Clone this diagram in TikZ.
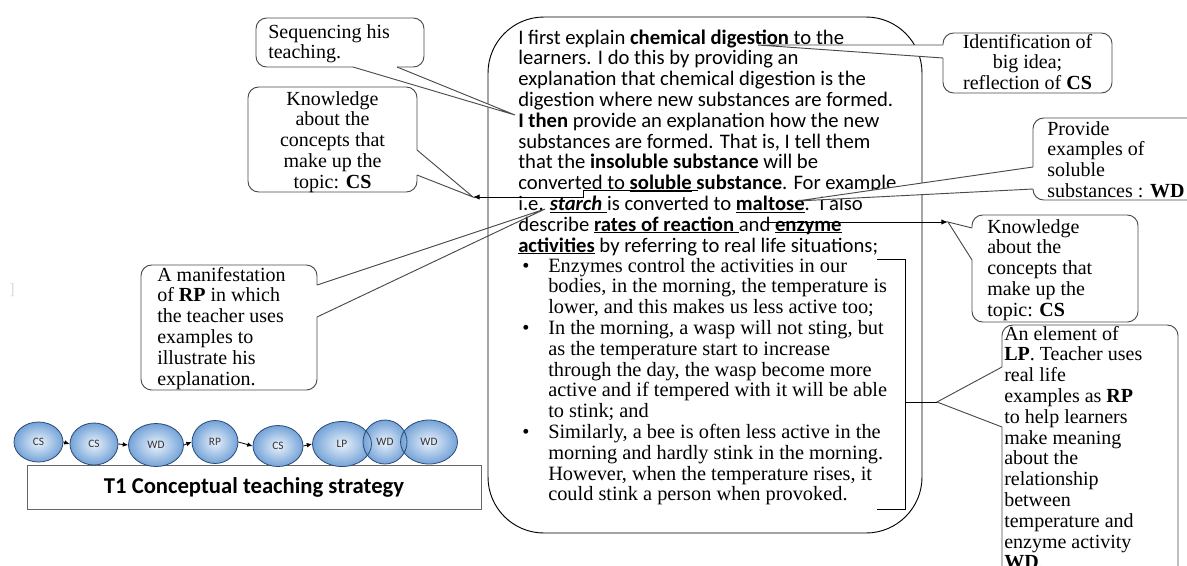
\documentclass[tikz,border=0pt]{standalone}
\usepackage{fontspec}
\setmainfont{Liberation Serif}
\newfontfamily\calib{Carlito}
\usetikzlibrary{shapes.geometric,arrows.meta,calc}

\definecolor{edgegray}{HTML}{4A4A4A}
\definecolor{beadin}{HTML}{EAF2FB}
\definecolor{beadout}{HTML}{74A3D8}
\definecolor{beadrim}{HTML}{2C4A74}

% underline just below the baseline, same depth for every word
\newcommand\undl[1]{\setbox0\hbox{#1}\rlap{\rule[-1.6pt]{\wd0}{0.75pt}}\box0\relax}

% lines of text stacked at a fixed pitch: #1 name prefix, #2 options, #3 x, #4 first baseline, #5 lines
\newcommand\textlines[5]{%
  \foreach \txt [count=\k from 0] in {#5}{%
    \node[inner sep=0pt,#2] (#1\k) at (#3,{#4+20.8*\k}) {\txt};}}

% mouth of a callout: clears the box edge between the base points, fills the wedge, draws its sides
% #1 wedge fill options, #2 base A, #3 tip, #4 base B, #5/#6 step across the edge
\newcommand\calloutmouth[6]{%
  \fill[white] ($(#2)+(#5,#6)$) -- ($(#2)-(#5,#6)$) -- ($(#4)-(#5,#6)$) -- ($(#4)+(#5,#6)$) -- cycle;
  \fill[#1] (#2) -- (#3) -- (#4) -- cycle;
  \draw[pointer] (#2) -- (#3) -- (#4);}

\begin{document}
\begin{tikzpicture}[x=0.75pt,y=-0.75pt,
  box/.style={draw=edgegray,line width=0.7pt,fill=white,rounded corners=8pt},
  pointer/.style={draw=edgegray,line width=0.7pt,line join=miter},
  link/.style={draw=black,line width=0.7pt,-{Latex[length=5pt,width=4pt]}},
  bodyfont/.style={font=\calib\fontsize{15.5}{18}\selectfont},
  notefont/.style={font=\fontsize{15}{18}\selectfont},
  listfont/.style={font=\fontsize{15.25}{18}\selectfont},
  bead/.style={ellipse,draw=beadrim,line width=0.6pt,inner sep=0pt,
    font=\calib\fontsize{8.5}{10}\selectfont,text=black!80},
  beadlink/.style={-{Latex[length=4pt,width=3.5pt]},line width=0.6pt}]

\path[use as bounding box] (0,0) rectangle (1187,565);
\fill[white] (0,0) rectangle (1187,565);
\node[text=black!15,font=\fontsize{12}{14}\selectfont,inner sep=0pt] (edgemark) at (12,290) {]};

% the interview extract
\node[draw,line width=0.7pt,rounded corners=42pt,minimum width=325.5pt,minimum height=387pt,inner sep=0pt] (story) at (705,275) {};

\textlines{para}{anchor=base west,bodyfont}{518}{44}{%
  {I first explain \textbf{chemical digestion} to the},
  {learners. I do this by providing an},
  {explanation that chemical digestion is the},
  {digestion where new substances are formed.},
  {\textbf{I then} provide an explanation how the new},
  {substances are formed. That is, I tell them},
  {that the \textbf{insoluble substance} will be},
  {converted to \textbf{\undl{soluble} substance}. For example},
  {i.e. \undl{\textbf{\textit{starch}}\ }is converted to \undl{\textbf{maltose}}.\ \ I also},
  {describe \undl{\textbf{rates of reaction}\ }and \undl{\textbf{enzyme}}},
  {\undl{\textbf{activities}} by referring to real life situations;}}

\textlines{item}{anchor=base west,listfont}{548}{272}{%
  {Enzymes control the activities in our},
  {bodies, in the morning, the temperature is},
  {lower, and this makes us less active too;},
  {In the morning, a wasp will not sting, but},
  {as the temperature start to increase},
  {through the day, the wasp become more},
  {active and if tempered with it will be able},
  {to stink; and},
  {Similarly, a bee is often less active in the},
  {morning and hardly stink in the morning.},
  {However, when the temperature rises, it},
  {could stink a person when provoked.}}
\foreach \r [count=\j] in {0,3,8}
  \node[anchor=base west,inner sep=0pt,listfont] (dot\j) at (522,{272+20.8*\r}) {\textbullet};

% bracket round the three examples
\coordinate (brkTop) at (877,259);
\coordinate (brkBot) at (877,509);
\coordinate (brkMid) at (905,402);
\draw[line width=0.7pt] (brkTop) -- (905,259) -- (905,509) -- (brkBot);

% callout boxes
\draw[box] (256,18) rectangle (424,67);
\draw[box] (248,87) rectangle (417,192);
\draw[box] (943,33) rectangle (1112,93);
\draw[box] (1033,118) rectangle (1200,200);
\draw[box] (972,215) rectangle (1138,322);
\draw[box] (1002,325) rectangle (1178,590);
\draw[box] (141,265) rectangle (317,390);

\textlines{seq}{anchor=base west,notefont}{268}{38}{{Sequencing his},{teaching.}}
\textlines{knl}{anchor=base,notefont}{332.5}{105}{{Knowledge},{about the},{concepts that},{make up the},{topic: \textbf{CS}}}
\textlines{idn}{anchor=base,notefont}{1027.5}{48}{{Identification of},{big idea;},{reflection of \textbf{CS}}}
\textlines{prv}{anchor=base west,notefont}{1047}{135}{{Provide},{examples of},{soluble},{substances : \textbf{WD}}}
\textlines{knr}{anchor=base west,notefont}{987}{233}{{Knowledge},{about the},{concepts that},{make up the},{topic: \textbf{CS}}}
\textlines{lp}{anchor=base west,notefont}{1004}{340}{%
  {An element of},{\textbf{LP}. Teacher uses},{real life},{examples as \textbf{RP}},
  {to help learners},{make meaning},{about the},{relationship},{between},
  {temperature and},{enzyme activity},{\textbf{WD}.}}
\textlines{man}{anchor=base west,notefont}{157}{281}{%
  {A manifestation},{of \textbf{RP} in which},{the teacher uses},{examples to},{illustrate his},{explanation.}}

% callout mouths
\coordinate (seqA) at (353,67);  \coordinate (seqB) at (397,67);  \coordinate (seqTip) at (515,115);
\coordinate (knlA) at (417,150); \coordinate (knlB) at (417,175); \coordinate (knlTip) at (473,197);
\coordinate (idnA) at (943,45);  \coordinate (idnB) at (943,58);  \coordinate (idnTip) at (758,45);
\coordinate (prvA) at (1033,167);\coordinate (prvB) at (1033,189);\coordinate (prvTip) at (797,201);
\coordinate (knrA) at (972,228); \coordinate (knrB) at (972,260); \coordinate (knrTip) at (948,222);
\coordinate (lpA) at (1002,367); \coordinate (lpB) at (1002,427); \coordinate (lpTip) at (937,402);
\coordinate (manA) at (317,285); \coordinate (manB) at (317,317); \coordinate (manTip) at (545,209);

\calloutmouth{white}{seqA}{seqTip}{seqB}{0}{-1.5}
\calloutmouth{white}{knlA}{knlTip}{knlB}{-1.5}{0}
\calloutmouth{white}{idnA}{idnTip}{idnB}{1.5}{0}
\calloutmouth{white}{prvA}{prvTip}{prvB}{1.5}{0}
\calloutmouth{white}{knrA}{knrTip}{knrB}{1.5}{0}
\calloutmouth{white}{lpA}{lpTip}{lpB}{1.5}{0}
\calloutmouth{opacity=0}{manA}{manTip}{manB}{-1.5}{0}

% links from the extract to the callouts
\coordinate (solEnd) at (698,190);
\coordinate (solBend) at (583,190);
\coordinate (solDrop) at (583,197);
\draw[link] (solEnd) -- (solBend) -- (solDrop) -- (knlTip);
\coordinate (rateStart) at (765,222);
\draw[link] (rateStart) -- (knrTip);
\draw[line width=0.7pt] (brkMid) -- (lpTip);

% strategy strip
\node[draw=black!60,line width=0.7pt,minimum width=340.5pt,minimum height=33pt,inner sep=0pt,
  font=\calib\bfseries\fontsize{17}{18}\selectfont] (strategy) at (254,487) {T1 Conceptual teaching strategy};

\foreach \cx/\cy/\rx/\ry in {38.5/442/24.5/20, 94/444/24/21, 156/445/27.5/21.5, 215/442/23/21.5,
    278/446/25/20.5, 342/444/29.5/22.5, 385/442/22/22, 429/442/28.5/22}
  \shade[inner color=beadin,outer color=beadout] (\cx,\cy) ellipse [x radius=\rx,y radius=\ry];
\foreach \cx/\cy/\rx/\ry/\lab [count=\i] in {38.5/442/24.5/20/CS, 94/444/24/21/CS, 156/445/27.5/21.5/WD,
    215/442/23/21.5/RP, 278/446/25/20.5/CS, 342/444/29.5/22.5/LP, 385/442/22/22/WD, 429/442/28.5/22/WD}
  \node[bead,minimum width={1.5pt*\rx},minimum height={1.5pt*\ry}] (bead\i) at (\cx,\cy) {\lab};
\foreach \a/\b in {1/2,2/3,3/4,4/5,5/6}
  \draw[beadlink] (bead\a.east) -- (bead\b.west);

\end{tikzpicture}
\end{document}
